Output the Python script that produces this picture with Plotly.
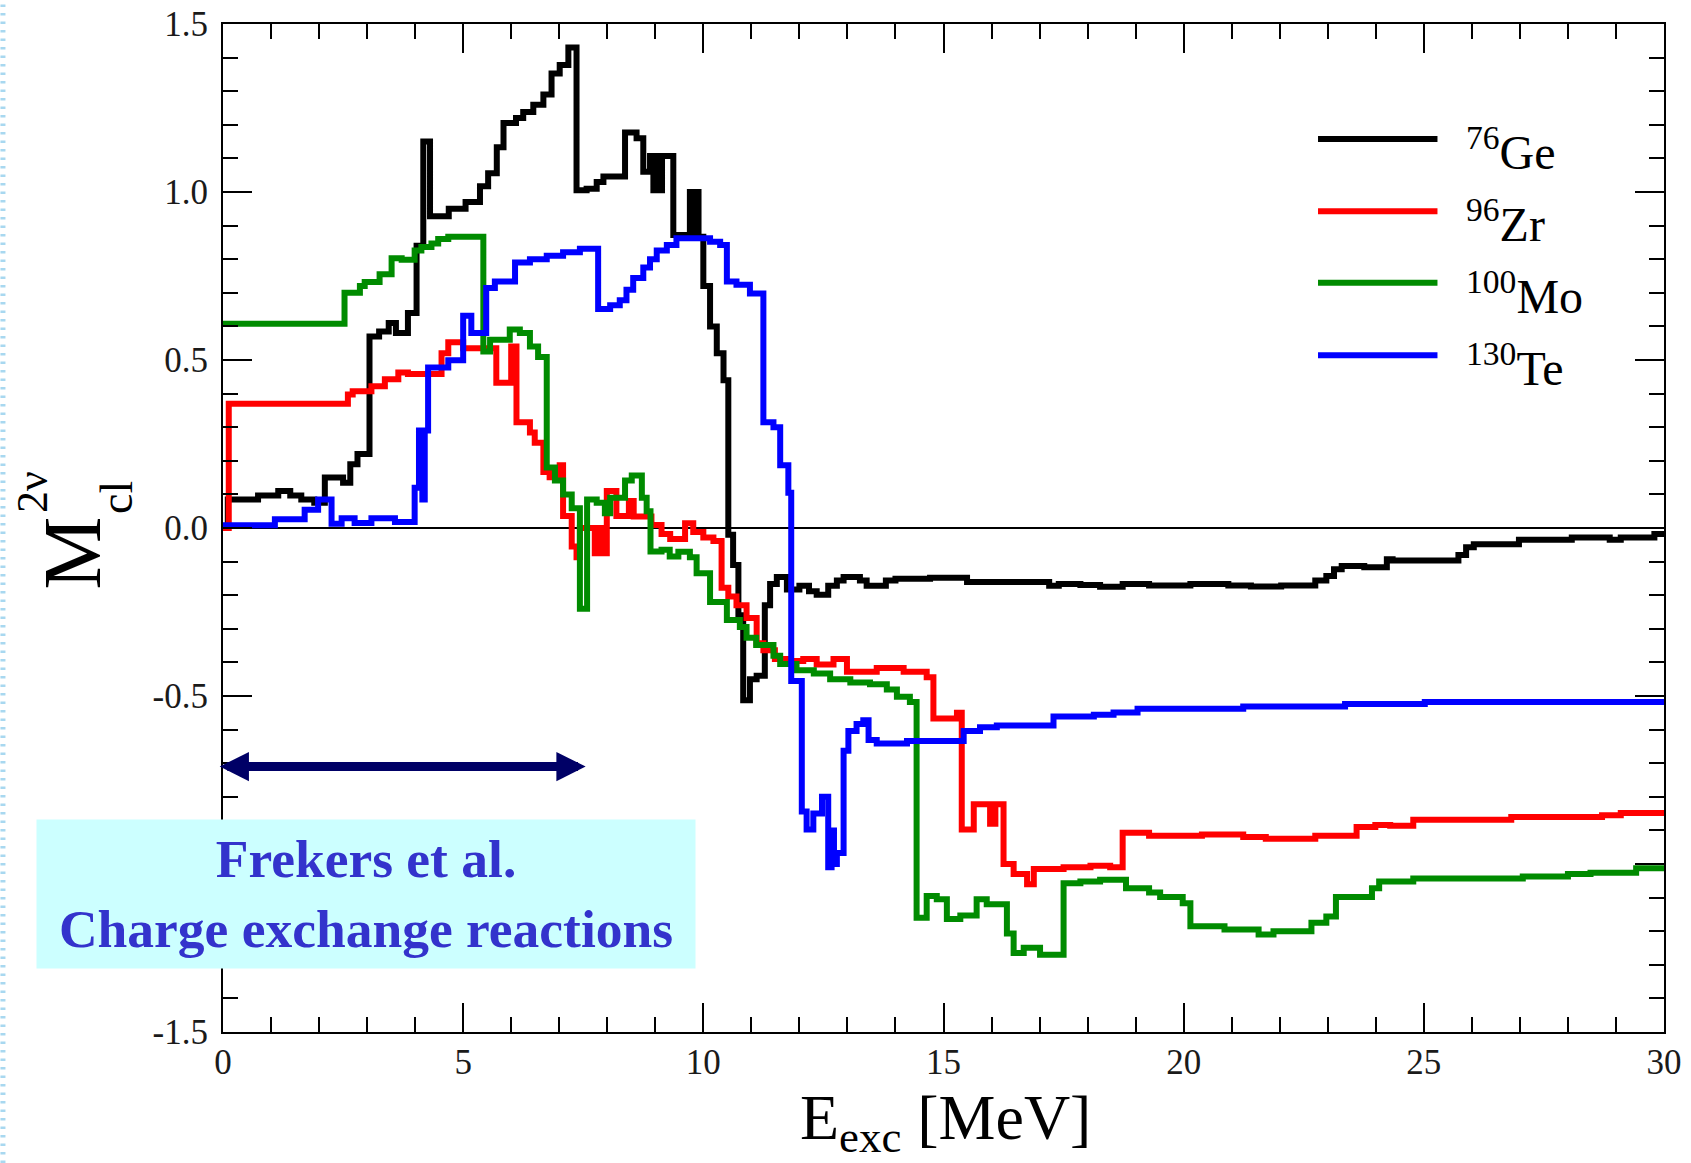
import plotly.graph_objects as go

# ---------------- data ----------------
# cumulative M_cl^{2nu} vs excitation energy, step curves: (E_exc [MeV], value)
ge_steps = [(0, 0.0), (0.1, 0.085), (0.73, 0.097), (1.15, 0.11), (1.4, 0.097), (1.63, 0.085),
            (1.9, 0.075), (2.12, 0.15), (2.5, 0.135), (2.65, 0.19), (2.8, 0.22), (3.05, 0.57),
            (3.25, 0.585), (3.45, 0.61), (3.6, 0.58), (3.85, 0.64), (4.03, 0.84), (4.17, 1.15),
            (4.31, 0.928), (4.7, 0.95), (5.05, 0.97), (5.35, 1.017), (5.52, 1.056), (5.7, 1.133),
            (5.84, 1.205), (6.1, 1.22), (6.25, 1.238), (6.46, 1.26), (6.67, 1.29), (6.84, 1.353),
            (7.01, 1.378), (7.19, 1.43), (7.36, 1.005), (7.57, 1.01), (7.78, 1.03), (7.92, 1.046),
            (8.37, 1.177), (8.61, 1.16), (8.75, 1.06), (8.89, 1.107), (8.96, 1.005), (9.02, 1.107),
            (9.08, 1.005), (9.14, 1.107), (9.375, 0.872), (9.72, 1.0), (9.8, 0.87), (9.84, 1.0),
            (9.9, 0.867), (10.0, 0.72), (10.14, 0.6), (10.28, 0.52), (10.42, 0.44), (10.52, -0.02),
            (10.62, -0.11), (10.73, -0.26), (10.83, -0.513), (10.97, -0.45), (11.11, -0.44),
            (11.28, -0.23), (11.39, -0.167), (11.53, -0.146), (11.74, -0.183), (12.0, -0.172),
            (12.2, -0.188), (12.36, -0.199), (12.6, -0.172), (12.78, -0.156), (12.92, -0.146),
            (13.26, -0.156), (13.4, -0.172), (13.8, -0.156), (14.0, -0.151), (14.72, -0.148),
            (15.49, -0.161), (17.2, -0.172), (17.4, -0.167), (17.85, -0.17), (18.26, -0.175),
            (18.73, -0.167), (19.28, -0.171), (20.14, -0.167), (20.93, -0.171), (21.4, -0.174),
            (22.03, -0.171), (22.74, -0.156), (22.97, -0.143), (23.13, -0.123), (23.29, -0.113),
            (23.76, -0.117), (24.23, -0.093), (24.35, -0.097), (25.72, -0.08), (25.88, -0.057),
            (26.04, -0.048), (26.98, -0.035), (28.08, -0.0285), (28.87, -0.035), (29.1, -0.0285),
            (29.8, -0.018), (30.0, -0.018)]

zr_steps = [(0, 0.0), (0.12, 0.37), (2.6, 0.397), (2.7, 0.407), (3.09, 0.422), (3.37, 0.443),
            (3.65, 0.463), (3.85, 0.458), (4.55, 0.52), (4.69, 0.553), (5.0, 0.535), (5.69, 0.432),
            (6.0, 0.54), (6.11, 0.315), (6.39, 0.284), (6.49, 0.254), (6.67, 0.167), (6.8, 0.151),
            (7.01, 0.187), (7.08, 0.036), (7.26, -0.055), (7.36, -0.087), (7.43, 0.0), (7.74, -0.075),
            (7.82, 0.0), (7.88, -0.075), (7.99, 0.11), (8.19, 0.036), (8.45, 0.08), (8.55, 0.034),
            (8.92, 0.009), (9.13, -0.018), (9.31, -0.033), (9.62, 0.014), (9.79, -0.012),
            (10.0, -0.028), (10.21, -0.039), (10.38, -0.178), (10.52, -0.204), (10.69, -0.23),
            (10.9, -0.268), (11.11, -0.343), (11.25, -0.364), (11.49, -0.39), (11.8, -0.396),
            (12.08, -0.39), (12.36, -0.406), (12.71, -0.39), (12.99, -0.428), (13.61, -0.417),
            (14.17, -0.428), (14.65, -0.444), (14.79, -0.567), (15.28, -0.55), (15.38, -0.897),
            (15.63, -0.822), (15.97, -0.88), (16.08, -0.822), (16.25, -1.0), (16.46, -1.03),
            (16.74, -1.06), (16.88, -1.015), (17.5, -1.01), (18.06, -1.005), (18.47, -1.01),
            (18.73, -0.907), (19.28, -0.916), (20.38, -0.912), (21.24, -0.92), (21.71, -0.925),
            (22.74, -0.916), (23.6, -0.89), (23.99, -0.884), (24.3, -0.886), (24.78, -0.868),
            (26.82, -0.86), (28.71, -0.855), (29.1, -0.848), (30.0, -0.848)]

mo_steps = [(0, 0.608), (2.53, 0.70), (2.85, 0.72), (2.95, 0.732), (3.26, 0.755), (3.51, 0.803),
            (3.72, 0.798), (3.99, 0.826), (4.13, 0.836), (4.34, 0.847), (4.48, 0.86), (4.69, 0.867),
            (5.42, 0.525), (5.56, 0.56), (5.97, 0.591), (6.18, 0.58), (6.39, 0.54), (6.56, 0.509),
            (6.74, 0.18), (6.91, 0.141), (7.08, 0.1), (7.26, 0.059), (7.43, -0.24), (7.58, 0.085),
            (7.78, 0.075), (7.95, 0.044), (8.06, 0.09), (8.37, 0.141), (8.51, 0.156), (8.72, 0.09),
            (8.82, 0.05), (8.9, -0.07), (9.13, -0.065), (9.3, -0.085), (9.48, -0.071), (9.72, -0.087),
            (9.86, -0.135), (10.14, -0.22), (10.49, -0.274), (10.76, -0.295), (10.9, -0.327),
            (11.1, -0.348), (11.46, -0.38), (11.6, -0.405), (11.94, -0.423), (12.3, -0.433),
            (12.64, -0.45), (13.06, -0.46), (13.47, -0.465), (13.82, -0.481), (14.03, -0.502),
            (14.3, -0.518), (14.44, -1.16), (14.65, -1.095), (14.86, -1.105), (15.07, -1.164),
            (15.35, -1.153), (15.69, -1.105), (15.9, -1.12), (16.32, -1.207), (16.46, -1.265),
            (16.67, -1.249), (17.01, -1.27), (17.5, -1.057), (17.85, -1.052), (18.26, -1.047),
            (18.8, -1.072), (19.28, -1.085), (19.51, -1.098), (19.98, -1.117), (20.14, -1.185),
            (20.85, -1.195), (21.56, -1.21), (21.87, -1.2), (22.66, -1.175), (22.97, -1.156),
            (23.17, -1.098), (23.92, -1.072), (24.07, -1.052), (24.78, -1.043), (27.06, -1.037),
            (28.0, -1.03), (28.47, -1.026), (29.42, -1.013), (30.0, -1.013)]

te_steps = [(0, 0.008), (1.08, 0.026), (1.7, 0.054), (1.98, 0.085), (2.26, 0.013), (2.47, 0.029),
            (2.74, 0.015), (3.09, 0.029), (3.58, 0.018), (3.99, 0.12), (4.08, 0.29), (4.15, 0.085),
            (4.2, 0.29), (4.27, 0.478), (4.69, 0.499), (5.0, 0.632), (5.17, 0.58), (5.48, 0.714),
            (5.66, 0.734), (6.08, 0.79), (6.39, 0.80), (6.74, 0.81), (7.08, 0.821), (7.43, 0.831),
            (7.81, 0.652), (8.06, 0.663), (8.26, 0.678), (8.4, 0.709), (8.54, 0.744), (8.75, 0.775),
            (8.89, 0.8), (9.03, 0.826), (9.24, 0.842), (9.44, 0.862), (10.14, 0.852), (10.35, 0.842),
            (10.49, 0.734), (10.69, 0.724), (10.97, 0.698), (11.25, 0.315), (11.46, 0.3),
            (11.6, 0.187), (11.77, 0.105), (11.83, -0.455), (12.05, -0.844), (12.15, -0.897),
            (12.29, -0.85), (12.47, -0.8), (12.6, -1.01), (12.67, -0.9), (12.72, -1.0),
            (12.78, -0.967), (12.92, -0.663), (13.02, -0.604), (13.19, -0.583), (13.33, -0.572),
            (13.44, -0.631), (13.61, -0.641), (14.24, -0.634), (15.42, -0.604), (15.76, -0.593),
            (16.11, -0.588), (17.29, -0.561), (18.13, -0.556), (18.54, -0.549), (19.04, -0.538),
            (21.24, -0.531), (23.36, -0.524), (25.02, -0.518), (30.0, -0.518)]

series_names = ["<sup>76</sup>Ge", "<sup>96</sup>Zr", "<sup>100</sup>Mo", "<sup>130</sup>Te"]
series_steps = [ge_steps, zr_steps, mo_steps, te_steps]
series_colors = ["#000000", "#FF0000", "#008B00", "#0000FF"]

x_tickvals = [0, 5, 10, 15, 20, 25, 30]
x_ticktext = ["0", "5", "10", "15", "20", "25", "30"]
y_tickvals = [-1.5, -1.0, -0.5, 0.0, 0.5, 1.0, 1.5]
y_ticktext = ["-1.5", "-1.0", "-0.5", "0.0", "0.5", "1.0", "1.5"]

arrow_range = (-0.1, 7.55)   # MeV span of the charge-exchange arrow
arrow_level = -0.71

SERIF = "Liberation Serif, Times New Roman, serif"

fig = go.Figure()
for name, steps, col in zip(series_names, series_steps, series_colors):
    xs = [p[0] for p in steps]
    ys = [p[1] for p in steps]
    fig.add_trace(go.Scatter(x=xs, y=ys, mode="lines", name=name, showlegend=False,
                             line=dict(color=col, width=6, shape="hv")))

axis_common = dict(showline=True, linecolor="black", linewidth=2, mirror="allticks",
                   ticks="inside", ticklen=29, tickwidth=2, tickcolor="black",
                   showgrid=False, automargin=False,
                   tickfont=dict(family=SERIF, size=35, color="#1a1a1a"))

fig.update_xaxes(range=[0, 30], tickvals=x_tickvals, ticktext=x_ticktext, zeroline=False,
                 ticklabelstandoff=-2,
                 minor=dict(ticks="inside", ticklen=15, tickwidth=2, tickcolor="black", dtick=1),
                 **axis_common)
fig.update_yaxes(range=[-1.5, 1.5], tickvals=y_tickvals, ticktext=y_ticktext,
                 zeroline=True, zerolinecolor="black", zerolinewidth=1.5,
                 ticklabelstandoff=6,
                 minor=dict(ticks="inside", ticklen=15, tickwidth=2, tickcolor="black", dtick=0.1),
                 **axis_common)

annotations = []
# legend (drawn manually: long sample lines)
leg_y_lines = [0.886, 0.8142, 0.7433, 0.6714]
shapes = []
for name, col, ly in zip(series_names, series_colors, leg_y_lines):
    shapes.append(dict(type="line", xref="paper", yref="paper", x0=0.7599, x1=0.8428,
                       y0=ly, y1=ly, line=dict(color=col, width=6)))
    annotations.append(dict(xref="paper", yref="paper", x=0.861, y=ly - 0.0101,
                            xanchor="left", yanchor="middle", showarrow=False, text=name,
                            font=dict(family=SERIF, size=48, color="black")))

# decorative dashed slide border at far left
shapes.append(dict(type="line", xref="paper", yref="paper", x0=-0.1527, x1=-0.1527,
                   y0=-0.13, y1=1.023, line=dict(color="#A8D8F0", width=5, dash="2.5px,6px")))

# y axis title pieces: M with stacked superscript 2nu and subscript cl
annotations.append(dict(xref="paper", yref="paper", x=-0.10375, y=0.4752, text="M",
                        textangle=-90, showarrow=False, xanchor="center", yanchor="middle",
                        font=dict(family=SERIF, size=82, color="black")))
annotations.append(dict(xref="paper", yref="paper", x=-0.1325, y=0.5357, text="2ν",
                        textangle=-90, showarrow=False, xanchor="center", yanchor="middle",
                        font=dict(family=SERIF, size=44, color="black")))
annotations.append(dict(xref="paper", yref="paper", x=-0.0736, y=0.5308, text="cl",
                        textangle=-90, showarrow=False, xanchor="center", yanchor="middle",
                        font=dict(family=SERIF, size=46, color="black")))
# x axis title
annotations.append(dict(xref="paper", yref="paper", x=0.5017, y=-0.0893,
                        text="E<sub>exc</sub> [MeV]", showarrow=False,
                        xanchor="center", yanchor="middle",
                        font=dict(family=SERIF, size=64, color="black")))

# double-headed arrow
annotations.append(dict(x=arrow_range[1], y=arrow_level, xref="x", yref="y",
                        ax=arrow_range[0], ay=arrow_level, axref="x", ayref="y",
                        text="", showarrow=True, arrowside="end+start",
                        arrowhead=2, startarrowhead=2, arrowsize=0.65, startarrowsize=0.65,
                        arrowwidth=9, arrowcolor="#000066", standoff=0, startstandoff=0))

# cyan text box
annotations.append(dict(xref="paper", yref="paper", x=0.09896, y=0.1374,
                        xanchor="center", yanchor="middle", showarrow=False,
                        width=658, height=148, borderpad=0, bgcolor="#CCFFFF",
                        text="<b>Frekers et al.</b><br><b>Charge exchange reactions</b>",
                        font=dict(family=SERIF, size=53.5, color="#3333CC")))

fig.update_layout(width=1691, height=1163,
                  margin=dict(l=223, r=27, t=24, b=131, autoexpand=False),
                  paper_bgcolor="white", plot_bgcolor="white",
                  showlegend=False, shapes=shapes, annotations=annotations)

fig.write_html("out.html",
               config={"displayModeBar": False},
               post_script="document.body.style.margin='0px';document.body.style.overflow='hidden';")
